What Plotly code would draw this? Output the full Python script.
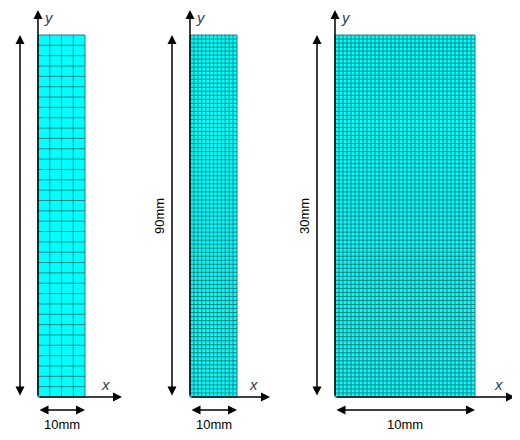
import plotly.graph_objects as go

# Three meshes: physical size and element counts
width_mm = [10, 10, 10]
height_mm = [90, 90, 30]
n_cols = [4, 12, 35]
n_rows = [35, 90, 90]
width_labels = ["10mm", "10mm", "10mm"]
height_labels = ["90mm", "90mm", "30mm"]

# drawing placement (pixel-like canvas units, page pixels)
left = [38, 190, 335]
panel_w = [47, 47, 140]
top, bottom = 35, 397
xaxis_end = [122, 270, 515]

fig = go.Figure()
anns = []
for i in range(3):
    x0, x1 = left[i], left[i] + panel_w[i]
    fig.add_trace(go.Scatter(x=[x0, x1, x1, x0, x0], y=[top, top, bottom, bottom, top],
                             fill="toself", fillcolor="#00ffff", mode="lines",
                             line=dict(color="#2a7a7a", width=1), hoverinfo="skip"))
    gx, gy = [], []
    for c in range(1, n_cols[i]):
        xx = x0 + panel_w[i] * c / n_cols[i]
        gx += [xx, xx, None]
        gy += [top, bottom, None]
    for r in range(1, n_rows[i]):
        yy = top + (bottom - top) * r / n_rows[i]
        gx += [x0, x1, None]
        gy += [yy, yy, None]
    fig.add_trace(go.Scatter(x=gx, y=gy, mode="lines",
                             line=dict(color="#1f6b6b", width=0.8), hoverinfo="skip"))

    arrow = dict(xref="x", yref="y", axref="x", ayref="y", showarrow=True,
                 arrowhead=2, arrowsize=1.2, arrowwidth=1.5, arrowcolor="black", text="")
    # y axis
    anns.append(dict(arrow, x=x0, y=10, ax=x0, ay=bottom))
    # x axis
    anns.append(dict(arrow, x=xaxis_end[i], y=bottom, ax=x0, ay=bottom))
    # height dimension
    anns.append(dict(arrow, x=x0 - 18, y=top, ax=x0 - 18, ay=bottom, arrowside="end+start"))
    # width dimension
    anns.append(dict(arrow, x=x1, y=410, ax=x0, ay=410, arrowside="end+start"))
    txt = dict(xref="x", yref="y", showarrow=False, font=dict(family="Liberation Sans", size=13, color="black"))
    anns.append(dict(txt, x=x0 + 11, y=17, text="<i>y</i>", font=dict(family="Liberation Sans", size=15)))
    anns.append(dict(txt, x=xaxis_end[i] - 17, y=384, text="<i>x</i>", font=dict(family="Liberation Sans", size=15)))
    anns.append(dict(txt, x=x0 - 31, y=(top + bottom) / 2, text=height_labels[i], textangle=-90))
    anns.append(dict(txt, x=(x0 + x1) / 2, y=424, text=width_labels[i], yanchor="middle"))

# page body has an 8px margin, so the canvas covers page pixels 8..512 / 8..432
fig.update_layout(width=504, height=424, margin=dict(l=0, r=0, t=0, b=0),
                  plot_bgcolor="white", paper_bgcolor="white", showlegend=False,
                  annotations=anns,
                  xaxis=dict(range=[8, 512], visible=False, fixedrange=True),
                  yaxis=dict(range=[432, 8], visible=False, fixedrange=True))
fig.write_html("out.html")
